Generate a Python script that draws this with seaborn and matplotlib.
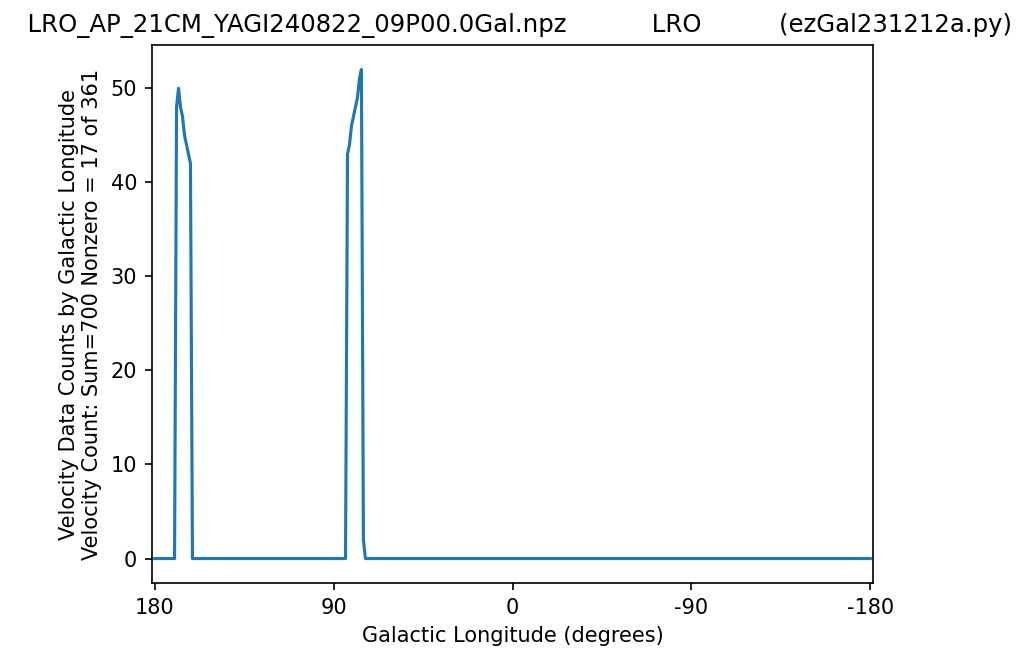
import numpy as np
import pandas as pd
import matplotlib
matplotlib.use("Agg")
import matplotlib.pyplot as plt
import seaborn as sns

"""
Velocity data counts per galactic longitude, 1 degree bins from 180 to -180.
Only two patches of sky have counts, everything else is zero.
"""
file_name = "LRO_AP_21CM_YAGI240822_09P00.0Gal.npz"
station = "LRO"
program = "(ezGal231212a.py)"

longitudes = list(range(180, -181, -1))

## Nonzero bins
lon_first = [169, 168, 167, 166, 165, 164, 163, 162]
count_first = [48, 50, 48, 47, 45, 44, 43, 42]
lon_second = [83, 82, 81, 80, 79, 78, 77, 76, 75]
count_second = [43, 44, 46, 47, 48, 49, 51, 52, 2]

tick_values = [180, 90, 0, -90, -180]
tick_labels = ["180", "90", "0", "-90", "-180"]

counts = dict.fromkeys(longitudes, 0)
counts.update(zip(lon_first, count_first))
counts.update(zip(lon_second, count_second))
df = pd.DataFrame({"lon": longitudes, "count": [counts[l] for l in longitudes]})

fig = plt.figure(figsize=(1024 / 150, 661 / 150), dpi=150)
ax = fig.add_axes([151.7 / 1024, 78 / 661, 721.6 / 1024, 538 / 661])
sns.lineplot(data=df, x="lon", y="count", ax=ax, color="#1f77b4", linewidth=1.5)

ax.set_xlim(181.5, -181.5)
ax.set_xticks(tick_values)
ax.set_xticklabels(tick_labels)
ax.set_xlabel("Galactic Longitude (degrees)")
ax.set_ylabel("Velocity Data Counts by Galactic Longitude\n"
              "Velocity Count: Sum=700 Nonzero = 17 of 361")
ax.set_title("  " + file_name + " " * 11 + station + " " * 10 + program, fontsize=11.7)

fig.savefig("out.png", dpi=150)
